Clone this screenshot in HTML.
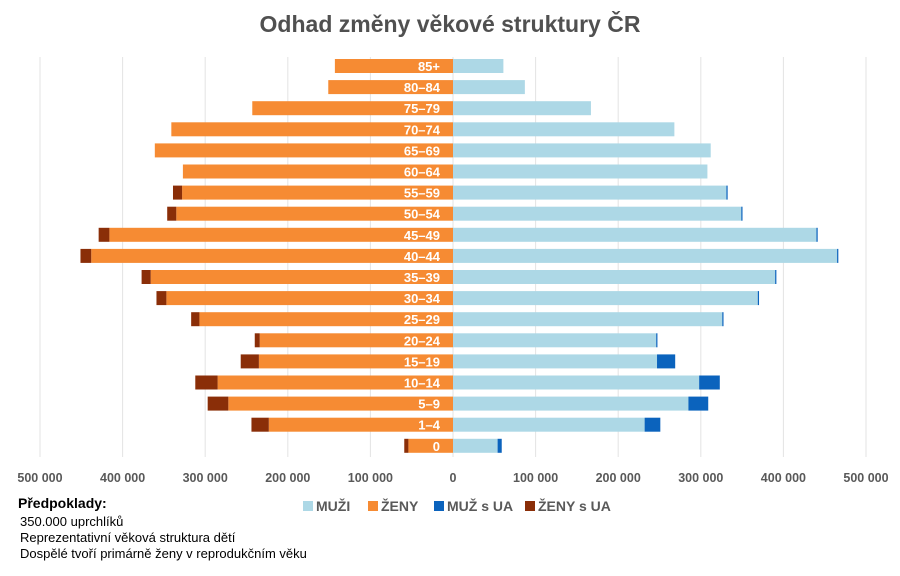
<!DOCTYPE html>
<html><head><meta charset="utf-8"><style>
body{margin:0;background:#fff;font-family:"Liberation Sans",sans-serif}
</style></head><body>
<svg id="c" width="900" height="571" xmlns="http://www.w3.org/2000/svg">
<text x="450" y="32" text-anchor="middle" font-size="23" font-weight="bold" fill="#505050">Odhad změny věkové struktury ČR</text>
<g id="grid"></g><g id="bars"></g><g id="labels"></g><g id="ticks"></g>
<g font-size="14" font-weight="bold" fill="#595959">
<rect x="303" y="501" width="10" height="10" fill="#add8e6"/><text x="316" y="511">MUŽI</text>
<rect x="368" y="501" width="10" height="10" fill="#f68b33"/><text x="381" y="511">ŽENY</text>
<rect x="434" y="501" width="10" height="10" fill="#0b63bd"/><text x="447" y="511">MUŽ s UA</text>
<rect x="525" y="501" width="10" height="10" fill="#8a2e08"/><text x="538" y="511">ŽENY s UA</text>
</g>
<g font-size="13" fill="#000">
<text x="18" y="508" font-weight="bold" font-size="14">Předpoklady:</text>
<text x="20" y="526">350.000 uprchlíků</text>
<text x="20" y="542">Reprezentativní věková struktura dětí</text>
<text x="20" y="558">Dospělé tvoří primárně ženy v reprodukčním věku</text>
</g>
</svg>
<script>
const categories=["85+","80–84","75–79","70–74","65–69","60–64","55–59","50–54","45–49","40–44","35–39","30–34","25–29","20–24","15–19","10–14","5–9","1–4","0"];
const muzi=[61000,87000,167000,268000,312000,308000,331000,349000,440000,465000,390000,369000,326000,246000,247000,298000,285000,232000,54000];
const muzUA=[0,0,0,0,0,0,1500,1500,1500,1500,1500,1500,1500,1500,22000,25000,24000,19000,5000];
const zeny=[143000,151000,243000,341000,361000,327000,328000,335000,416000,438000,366000,347000,307000,234000,235000,285000,272000,223000,54000];
const zenyUA=[0,0,0,0,0,0,11000,11000,13000,13000,11000,12000,10000,6000,22000,27000,25000,21000,5000];
const tickValues=[-500000,-400000,-300000,-200000,-100000,0,100000,200000,300000,400000,500000];
const tickLabels=["500 000","400 000","300 000","200 000","100 000","0","100 000","200 000","300 000","400 000","500 000"];
const NS="http://www.w3.org/2000/svg";
const x0=453,k=413/500000;
const X=v=>x0+v*k;
const Y=i=>66+i*21.1;
function mk(t,a,p){const e=document.createElementNS(NS,t);for(const n in a)e.setAttribute(n,a[n]);p.appendChild(e);return e;}
const grid=document.getElementById('grid'),bars=document.getElementById('bars'),labels=document.getElementById('labels'),ticks=document.getElementById('ticks');
tickValues.forEach((v,i)=>{
 const l=mk('line',{x1:X(v),x2:X(v),y1:57,y2:457,stroke:'#e3e3e3','stroke-width':1},grid);
 
 
 const t=mk('text',{x:X(v),y:482,'text-anchor':'middle','font-size':12.5,'font-weight':'bold',fill:'#595959'},ticks);
 t.textContent=tickLabels[i];
 
 
});
const h=14;
categories.forEach((c,i)=>{
 const y=Y(i)-h/2;
 let r=mk('rect',{x:x0,y:y,width:muzi[i]*k,height:h,fill:'#add8e6'},bars);
 
 
 r=mk('rect',{x:X(muzi[i]),y:y,width:muzUA[i]*k,height:h,fill:'#0b63bd'},bars);
 
 
 r=mk('rect',{x:X(-zeny[i]),y:y,width:zeny[i]*k,height:h,fill:'#f68b33'},bars);
 
 
 r=mk('rect',{x:X(-zeny[i]-zenyUA[i]),y:y,width:zenyUA[i]*k,height:h,fill:'#8a2e08'},bars);
 
 
 const t=mk('text',{x:440,y:Y(i)+5,'text-anchor':'end','font-size':13,'font-weight':'bold',fill:'#fff'},labels);
 t.textContent=c;
 
 
});
</script>
</body></html>
